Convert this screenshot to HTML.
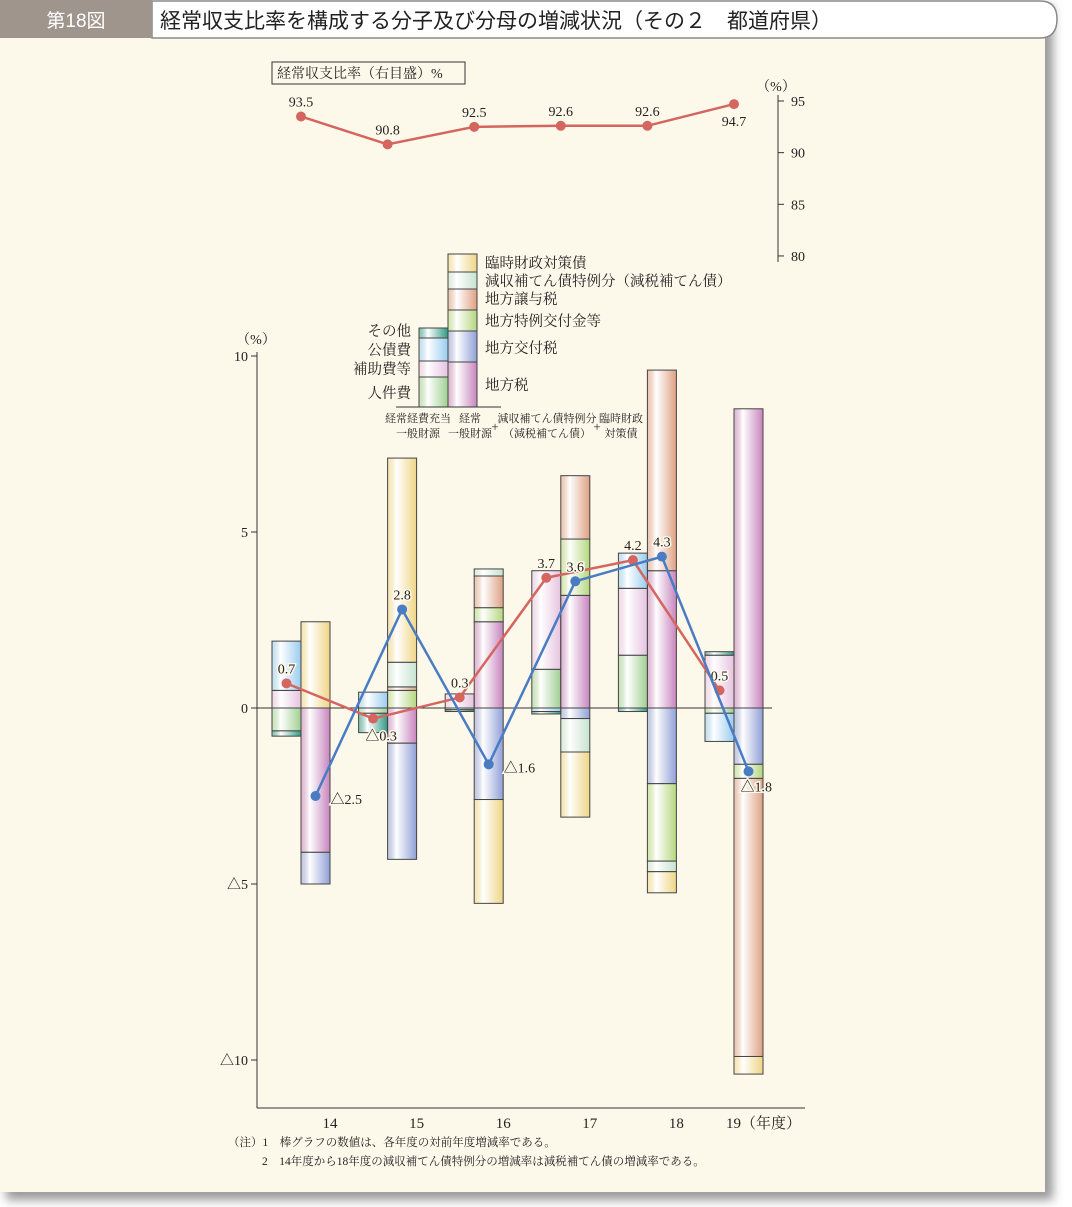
<!DOCTYPE html>
<html><head><meta charset="utf-8"><style>
html,body{margin:0;padding:0;background:#fff;}
svg{display:block;font-family:"Liberation Serif","Noto Serif CJK SC","Noto Sans CJK JP",serif;}
.halo{paint-order:stroke;stroke:#fdf9ea;stroke-width:3px;}
</style></head><body>
<svg id="chart" width="1072" height="1207" viewBox="0 0 1072 1207" xmlns="http://www.w3.org/2000/svg">
<defs>
<filter id="sh" x="-5%" y="-5%" width="110%" height="110%"><feGaussianBlur stdDeviation="5"/></filter>
</defs>
<rect x="6" y="6" width="1047" height="1194" fill="#9a9a9a" filter="url(#sh)"/>
<rect x="0" y="0" width="1045" height="1192" fill="#fdf9ea"/>
<g>
<path d="M152 1 H1040 Q1057 1 1057 19 Q1057 38 1040 38 H152 Z" fill="#fff" stroke="#8a8a8a" stroke-width="1.5"/>
<rect x="0" y="0" width="152" height="38" fill="#a0958d"/>
<text x="76" y="27" text-anchor="middle" fill="#fff" font-size="19" font-family="Liberation Sans,Noto Sans CJK JP,sans-serif">第18図</text>
<text x="160" y="28" fill="#222" font-size="21" font-family="Liberation Sans,Noto Sans CJK JP,sans-serif">経常収支比率を構成する分子及び分母の増減状況（その２　都道府県）</text>
</g>
<g id="plot"></g>
</svg>
<script>
const categories=['14','15','16','17','18','19'];
const ratio=[93.5,90.8,92.5,92.6,92.6,94.7];
const jinken=[-0.65,-0.15,-0.05,1.1,1.5,-0.15];
const hojo=[0.5,0,0.4,2.8,1.9,1.5];
const kosai=[1.4,0.45,0,-0.1,1.0,-0.8];
const sonota=[-0.15,-0.55,-0.05,-0.07,-0.1,0.1];
const chihozei=[-4.1,-1.0,2.45,3.2,3.9,8.5];
const kofuzei=[-0.9,-3.3,-2.6,-0.3,-2.15,-1.6];
const tokurei=[0,0.5,0.4,1.6,-2.2,-0.4];
const joyo=[0,0.1,0.9,1.8,5.7,-7.9];
const genshu=[0,0.7,0.2,-0.95,-0.3,0];
const rinji=[2.45,5.8,-2.95,-1.85,-0.6,-0.5];
const redLine=[0.7,-0.3,0.3,3.7,4.2,0.5];
const blueLine=[-2.5,2.8,-1.6,3.6,4.3,-1.8];
const yTicks=[10,5,0,-5,-10];
const rTicks=[95,90,85,80];

const NS='http://www.w3.org/2000/svg';
const g=document.getElementById('plot');
const defs=document.querySelector('defs');
function el(tag,attrs,parent){const e=document.createElementNS(NS,tag);for(const k in attrs)e.setAttribute(k,attrs[k]);(parent||g).appendChild(e);return e;}
const Y=v=>708-v*35.2;
const RY=v=>101+(95-v)*10.33;
const CX=i=>301+i*86.6;
const BW=29;
const fmt=v=>v<0?'△'+Math.abs(v).toFixed(1):v.toFixed(1);

const colors={jinken:'#9fcf92',hojo:'#e6c3e0',kosai:'#99ccef',sonota:'#2f9a85',chihozei:'#c784bd',kofuzei:'#909fd6',tokurei:'#b4d67e',joyo:'#dea083',genshu:'#c6e2cf',rinji:'#efd585'};
for(const k in colors){const lg=el('linearGradient',{id:'g_'+k,x1:'0',x2:'1',y1:'0',y2:'0'},defs);
el('stop',{offset:'0',"stop-color":colors[k],"stop-opacity":'0.55'},lg);
el('stop',{offset:'0.3',"stop-color":'#ffffff'},lg);
el('stop',{offset:'1',"stop-color":colors[k]},lg);}

function stack(series,keys,x,i,name){
  let pos=0,neg=0;
  series.forEach((s,j)=>{const v=s[i];if(!v)return;let y0,y1;
    if(v>0){y0=pos;y1=pos+v;pos=y1;}else{y0=neg;y1=neg+v;neg=y1;}
    const r=el('rect',{x:x,y:Math.min(Y(y0),Y(y1)),width:BW,height:Math.abs(Y(y1)-Y(y0)),fill:'url(#g_'+keys[j]+')',stroke:'#444','stroke-width':'1'});
    
    
  });
}
// axes
const ax=el('g',{});


el('line',{x1:257,y1:352,x2:257,y2:1108,stroke:'#333','stroke-width':1},ax);
yTicks.forEach(t=>{el('line',{x1:251,y1:Y(t),x2:257,y2:Y(t),stroke:'#333'},ax);
  const tx=el('text',{x:248,y:Y(t)+5,'text-anchor':'end','font-size':14,fill:'#222'},ax);tx.textContent=t<0?'△'+Math.abs(t):String(t);
  
  });
const yu=el('text',{x:256,y:344,'text-anchor':'middle','font-size':14,fill:'#222'});yu.textContent='（%）';


const xa=el('line',{x1:257,y1:1108,x2:805,y2:1108,stroke:'#333'});


const zl=el('line',{x1:257,y1:708,x2:772,y2:708,stroke:'#333'});


categories.forEach((c,i)=>{const t=el('text',{x:CX(i)+29,y:1128,'text-anchor':'middle','font-size':15,fill:'#222'});t.textContent=c+(i===5?'（年度）':'');
  if(i===5){t.setAttribute('text-anchor','start');t.setAttribute('x',CX(i)-8);}
  
  });

// bars
categories.forEach((c,i)=>{
  stack([jinken,hojo,kosai,sonota],['jinken','hojo','kosai','sonota'],CX(i)-BW,i,'expense-bar');
  stack([chihozei,kofuzei,tokurei,joyo,genshu,rinji],['chihozei','kofuzei','tokurei','joyo','genshu','rinji'],CX(i),i,'revenue-bar');
});

// lines
function line(vals,color,dx,name,labelMode){
  const pts=vals.map((v,i)=>[CX(i)+dx,Y(v)]);
  const p=el('polyline',{points:pts.map(p=>p.join(',')).join(' '),fill:'none',stroke:color,'stroke-width':2.5});
  
  
  pts.forEach((pt,i)=>{const c=el('circle',{cx:pt[0],cy:pt[1],r:5,fill:color});
    
    
    const v=vals[i];let tx=pt[0],ty=pt[1]-10,anc='middle';
    if(v<0){ if(labelMode==='below'){tx=pt[0]+8;ty=pt[1]+22;} else {tx=pt[0]+15;ty=pt[1]+8;anc='start'; if(i===categories.length-1){tx=pt[0]-8;ty=pt[1]+20;}}}
    const t=el('text',{x:tx,y:ty,'text-anchor':anc,'font-size':14,fill:'#222',class:'halo'});t.textContent=fmt(v);
    
    });
}
line(redLine,'#d4665f',-14.5,'expense-general-revenue','below');
line(blueLine,'#4a7cc4',14.5,'general-revenue','right');

// top ratio chart
const ra=el('g',{});


el('line',{x1:778,y1:95,x2:778,y2:262,stroke:'#333'},ra);
rTicks.forEach(t=>{el('line',{x1:778,y1:RY(t),x2:784,y2:RY(t),stroke:'#333'},ra);
  const tx=el('text',{x:791,y:RY(t)+5,'font-size':14,fill:'#222'},ra);tx.textContent=String(t);
  
  });
const ru=el('text',{x:776,y:91,'text-anchor':'middle','font-size':14,fill:'#222'});ru.textContent='（%）';


const rp=ratio.map((v,i)=>[CX(i),RY(v)]);
const rl=el('polyline',{points:rp.map(p=>p.join(',')).join(' '),fill:'none',stroke:'#d4665f','stroke-width':2.5});


rp.forEach((p,i)=>{const c=el('circle',{cx:p[0],cy:p[1],r:5,fill:'#d4665f'});
  
  
  const last=i===ratio.length-1;
  const t=el('text',{x:p[0],y:last?p[1]+22:p[1]-10,'text-anchor':'middle','font-size':14,fill:'#222'});t.textContent=ratio[i].toFixed(1);
  
  });
const lb=el('rect',{x:272,y:62,width:193,height:22,fill:'none',stroke:'#333'});


const lt=el('text',{x:277,y:78,'font-size':14,fill:'#222'});lt.textContent='経常収支比率（右目盛）%';



// legend
const legL=[['jinken',377,407],['hojo',361,377],['kosai',338,361],['sonota',328,338]];
const legR=[['chihozei',362,407],['kofuzei',331,362],['tokurei',310,331],['joyo',289,310],['genshu',272,289],['rinji',254,272]];
legL.forEach(s=>{const r=el('rect',{x:419,y:s[1],width:29,height:s[2]-s[1],fill:'url(#g_'+s[0]+')',stroke:'#444'});
  
  });
legR.forEach(s=>{const r=el('rect',{x:448,y:s[1],width:29,height:s[2]-s[1],fill:'url(#g_'+s[0]+')',stroke:'#444'});
  
  });
const lbl=el('line',{x1:396,y1:407,x2:501,y2:407,stroke:'#333'});


const lt1=[['その他',336],['公債費',355],['補助費等',374],['人件費',398]];
lt1.forEach(s=>{const t=el('text',{x:411,y:s[1],'text-anchor':'end','font-size':14.5,fill:'#222'});t.textContent=s[0];
  
  });
const lt2=[['臨時財政対策債',268],['減収補てん債特例分（減税補てん債）',286],['地方譲与税',304],['地方特例交付金等',326],['地方交付税',353],['地方税',390]];
lt2.forEach(s=>{const t=el('text',{x:485,y:s[1],'font-size':14.5,fill:'#222'});t.textContent=s[0];
  
  });
const sub=[['経常経費充当',418,422],['一般財源',418,437],['経常',470,422],['一般財源',470,437],['+',495,431],['減収補てん債特例分',547,422],['（減税補てん債）',547,437],['+',597,431],['臨時財政',621,422],['対策債',621,437]];
sub.forEach(s=>{const t=el('text',{x:s[1],y:s[2],'text-anchor':'middle','font-size':s[0]==='+'?13:11,fill:'#222'});t.textContent=s[0];
  
  });

// notes
const notes=[['（注）1　棒グラフの数値は、各年度の対前年度増減率である。',228,1146],['2　14年度から18年度の減収補てん債特例分の増減率は減税補てん債の増減率である。',262,1165]];
notes.forEach(s=>{const t=el('text',{x:s[1],y:s[2],'font-size':11.5,fill:'#222'});t.textContent=s[0];
  
  });
</script>
</body></html>
